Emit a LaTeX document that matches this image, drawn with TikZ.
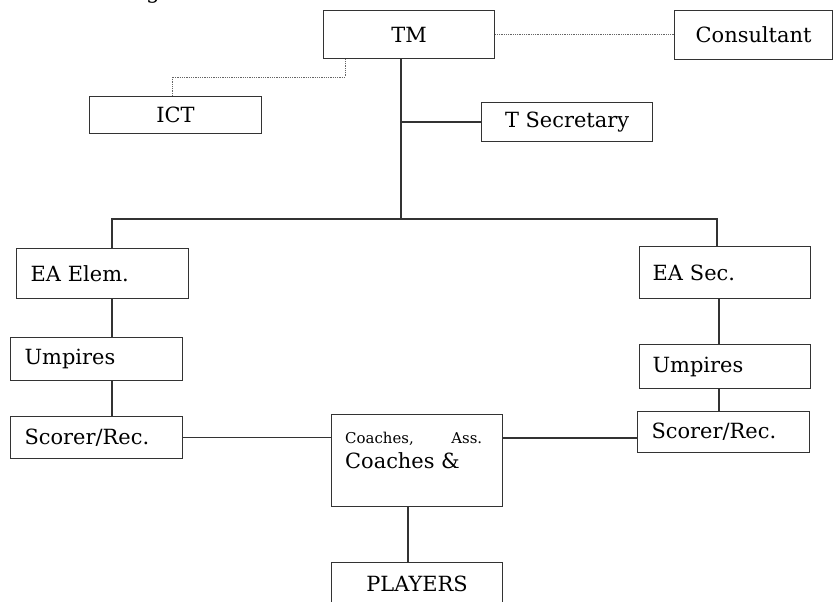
\documentclass[tikz,border=0pt]{standalone}
\usepackage{fontspec}
\setmainfont{DejaVu Serif}
\begin{document}
\begin{tikzpicture}[x=1bp, y=-1bp,
  box/.style={draw=black!80, line width=1.15bp, rectangle, anchor=north west,
    inner xsep=14bp, inner ysep=0pt, align=left,
    font=\fontsize{21}{25}\selectfont},
  cbox/.style={box, align=center},
  txt/.style={anchor=base west, inner sep=0pt},
  link/.style={draw=black!80, line width=1.15bp},
  dotlink/.style={draw=black!60, line width=0.9bp, dash pattern=on 0.9bp off 0.9bp}
]
\useasboundingbox (0,0) rectangle (834,602);

% heading fragment at the top edge
\node[txt, font=\fontsize{22}{26}\selectfont] (head) at (146,-1) {g};

% top level
\node[cbox, minimum width=171bp, minimum height=48bp] (tm) at (323,10) {TM};
\node[cbox, minimum width=158bp, minimum height=49bp] (cons) at (674,10) {Consultant};
\node[cbox, minimum width=172bp, minimum height=37bp] (ict) at (89,96) {ICT};
\node[cbox, minimum width=171bp, minimum height=39bp] (tsec) at (481,102) {T Secretary};

% left branch
\node[box, text width=144bp, minimum height=50bp] (eaelem) at (16,248) {EA Elem.};
\node[box, text width=144bp, minimum height=43bp] (umpl) at (10,337) {Umpires};
\node[box, text width=144bp, minimum height=42bp] (scorl) at (10,416) {Scorer/Rec.};

% right branch
\node[box, inner xsep=13bp, text width=145bp, minimum height=52bp] (easec) at (639,246) {EA Sec.};
\node[box, inner xsep=13bp, text width=145bp, minimum height=44bp] (umpr) at (639,344) {Umpires};
\node[box, text width=144bp, minimum height=41bp] (scorr) at (637,411) {Scorer/Rec.};

% coaches and players
\node[box, minimum width=171bp, minimum height=92bp] (coach) at (331,414) {};
\node[txt] (coachsmall) at (345,441)
  {\parbox{137bp}{\fontsize{15}{18}\selectfont Coaches,\hfill Ass.}};
\node[txt, font=\fontsize{21}{25}\selectfont] (coachbig) at (345,468) {Coaches \&};
\node[cbox, minimum width=171bp, minimum height=42bp] (players) at (331,562) {PLAYERS};

% junction points
\coordinate (hub) at (401,219);
\coordinate (barl) at (112,219);
\coordinate (barr) at (717,219);
\coordinate (colr) at (719,320);
\coordinate (rowr) at (600,438);
\coordinate (colc) at (408,530);
\coordinate (dk1) at (345,77);
\coordinate (dk2) at (172,77);

% solid connectors
\draw[link] (tm.south -| hub) -- (hub);
\draw[link] (tsec.west) -- (tsec.west -| hub);
\draw[link] (eaelem.north -| barl) -- (barl) -- (barr) -- (easec.north -| barr);
\draw[link] (eaelem.south -| barl) -- (umpl.north -| barl);
\draw[link] (umpl.south -| barl) -- (scorl.north -| barl);
\draw[link] (easec.south -| colr) -- (umpr.north -| colr);
\draw[link] (umpr.south -| colr) -- (scorr.north -| colr);
\draw[link] (scorl.east) -- (scorl.east -| coach.west);
\draw[link] (coach.east |- rowr) -- (scorr.west |- rowr);
\draw[link] (coach.south -| colc) -- (players.north -| colc);

% advisory (dotted) connectors
\draw[dotlink] (tm.south -| dk1) -- (dk1) -- (dk2) -- (ict.north -| dk2);
\draw[dotlink] (tm.east) -- (tm.east -| cons.west);
\end{tikzpicture}
\end{document}
